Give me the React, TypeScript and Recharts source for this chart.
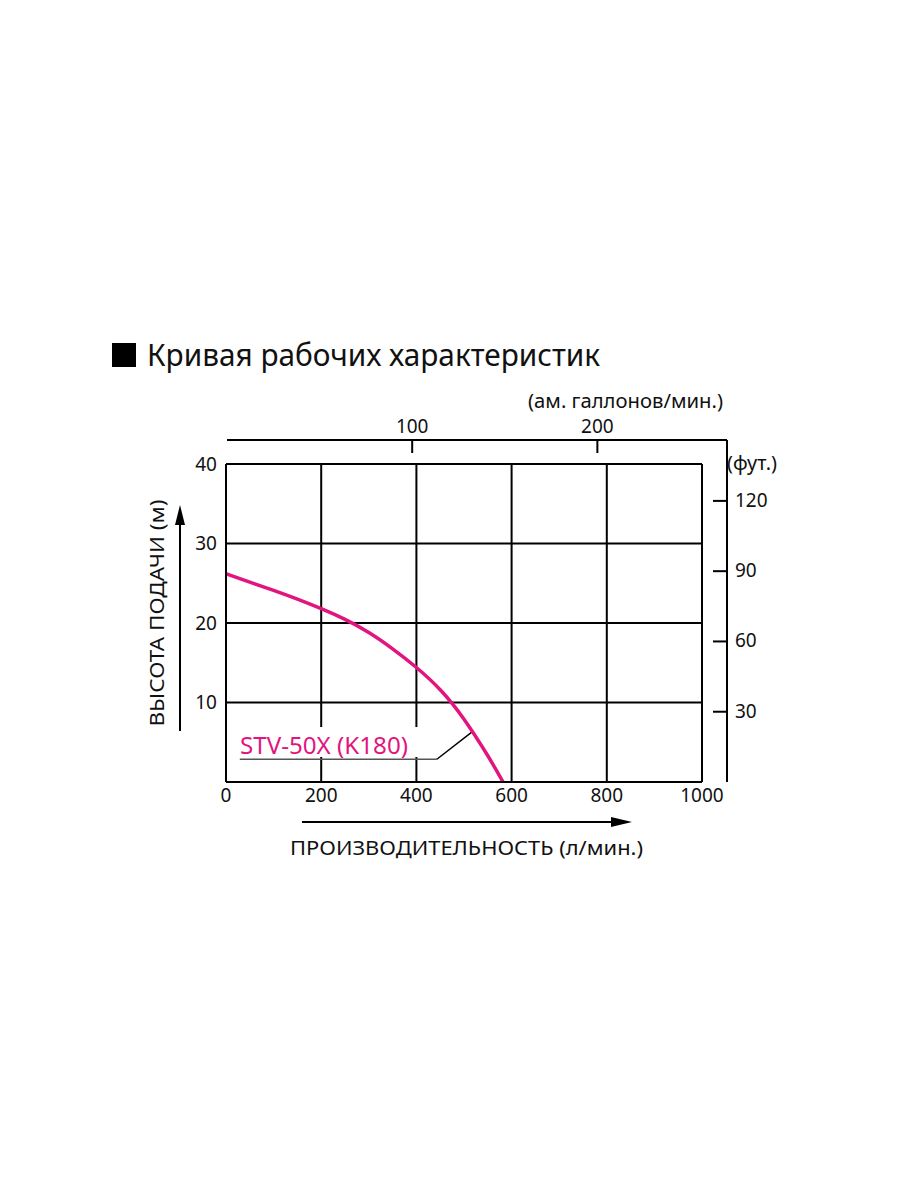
import { LineChart, Line, XAxis, YAxis, CartesianGrid, ReferenceLine } from 'recharts'

// litres per minute vs head in metres
const FLOW = [0, 50, 100, 150, 200, 250, 300, 350, 400, 450, 500, 550, 582]
const HEAD = [26.2, 25.15, 24.1, 23.0, 21.8, 20.45, 18.8, 16.75, 14.4, 11.6, 7.9, 3.3, 0]

const FLOW_TICKS = [0, 200, 400, 600, 800, 1000]
const HEAD_TICKS = [10, 20, 30, 40]
const GAL_TICKS = [100, 200]
const FEET_TICKS = [30, 60, 90, 120]

const SERIES_NAME = 'STV-50X (K180)'
const TITLE = 'Кривая рабочих характеристик'

const data = FLOW.map((flow, i) => ({ flow, head: HEAD[i] }))
const unitData = GAL_TICKS.map((gal, i) => ({ gal, ft: FEET_TICKS[i] }))

const FONT = "'Noto Sans', sans-serif"
const PINK = '#e2157f'
const INK = '#111'

function GalTick({ x, y, payload }: any) {
  return (
    <g>
      <line x1={x} y1={y} x2={x} y2={y + 13} stroke="#000" strokeWidth={2} />
      <text x={x} y={y - 14} textAnchor="middle" dominantBaseline="central" fontSize={19} fill={INK} fontFamily={FONT}>
        {payload.value}
      </text>
    </g>
  )
}

function FeetTick({ x, y, payload }: any) {
  return (
    <g>
      <line x1={x - 14} y1={y} x2={x} y2={y} stroke="#000" strokeWidth={2} />
      <text x={x + 8} y={y - 1} textAnchor="start" dominantBaseline="central" fontSize={19} fill={INK} fontFamily={FONT}>
        {payload.value}
      </text>
    </g>
  )
}

const tickStyle = { fontSize: 19, fill: INK, fontFamily: FONT }

export default function App() {
  return (
    <div style={{ position: 'absolute', left: 0, top: 0, width: 900, height: 1200, background: '#fff' }}>
      {/* main plot */}
      <div style={{ position: 'absolute', left: 0, top: 0 }}>
        <LineChart width={900} height={1200} data={data} margin={{ top: 464, right: 198, bottom: 388, left: 176 }}>
          <CartesianGrid stroke="#000" strokeWidth={2} />
          <XAxis
            type="number"
            dataKey="flow"
            domain={[0, 1000]}
            ticks={FLOW_TICKS}
            height={30}
            tickLine={false}
            tickSize={0}
            tickMargin={7}
            axisLine={{ stroke: '#000', strokeWidth: 2 }}
            tick={tickStyle}
            interval={0}
          />
          <YAxis
            type="number"
            domain={[0, 40]}
            ticks={HEAD_TICKS}
            width={50}
            tickLine={false}
            tickSize={0}
            tickMargin={9}
            axisLine={{ stroke: '#000', strokeWidth: 2 }}
            tick={tickStyle}
            interval={0}
          />
          <ReferenceLine
            segment={[{ x: 29, y: 2.86 }, { x: 443, y: 2.86 }]}
            stroke="#555"
            strokeWidth={1.5}
          />
          <ReferenceLine
            segment={[{ x: 443, y: 2.86 }, { x: 519, y: 6.4 }]}
            stroke="#000"
            strokeWidth={1.5}
          />
          <Line
            type="natural"
            dataKey="head"
            stroke={PINK}
            strokeWidth={3.5}
            dot={false}
            isAnimationActive={false}
          />
        </LineChart>
      </div>

      {/* gallons (top) and feet (right) axes */}
      <div style={{ position: 'absolute', left: 0, top: 0 }}>
        <LineChart width={900} height={1200} data={unitData} margin={{ top: 410, right: 123, bottom: 418, left: 227 }}>
          <XAxis
            orientation="top"
            type="number"
            dataKey="gal"
            domain={[0, 270]}
            allowDataOverflow
            ticks={GAL_TICKS}
            height={30}
            tickLine={false}
            tickSize={0}
            tickMargin={0}
            axisLine={{ stroke: '#000', strokeWidth: 2 }}
            tick={<GalTick />}
            interval={0}
          />
          <YAxis
            orientation="right"
            type="number"
            dataKey="ft"
            domain={[0, 146]}
            allowDataOverflow
            ticks={FEET_TICKS}
            width={50}
            tickLine={false}
            tickSize={0}
            tickMargin={0}
            axisLine={{ stroke: '#000', strokeWidth: 2 }}
            tick={<FeetTick />}
            interval={0}
          />
        </LineChart>
      </div>

      {/* titles, arrows, series label */}
      <svg
        width={900}
        height={1200}
        style={{ position: 'absolute', left: 0, top: 0, pointerEvents: 'none' }}
        fontFamily={FONT}
      >
        <rect x={112} y={343} width={24} height={24} fill="#000" />
        <text x={147} y={366} fontSize={31} fill={INK} textLength={453} lengthAdjust="spacingAndGlyphs">
          {TITLE}
        </text>

        <text x={528} y={408} fontSize={19} fill={INK} textLength={195} lengthAdjust="spacingAndGlyphs">
          (ам. галлонов/мин.)
        </text>
        <text x={727} y={470} fontSize={19} fill={INK} textLength={50} lengthAdjust="spacingAndGlyphs">
          (фут.)
        </text>

        <line x1={180} y1={731} x2={180} y2={520} stroke="#000" strokeWidth={2} />
        <polygon points="180,505 175,525 185,525" fill="#000" />
        <text
          x={0}
          y={0}
          transform="translate(164,613) rotate(-90)"
          textAnchor="middle"
          fontSize={19}
          fill={INK}
          textLength={227}
          lengthAdjust="spacingAndGlyphs"
        >
          ВЫСОТА ПОДАЧИ (м)
        </text>

        <line x1={302} y1={822} x2={615} y2={822} stroke="#000" strokeWidth={2} />
        <polygon points="632,822 611,817 611,827" fill="#000" />
        <text x={290} y={855} fontSize={19} fill={INK} textLength={353} lengthAdjust="spacingAndGlyphs">
          ПРОИЗВОДИТЕЛЬНОСТЬ (л/мин.)
        </text>

        <rect x={236} y={727} width={201} height={30} fill="#fff" />
        <text x={240} y={754} fontSize={24} fill={PINK} textLength={168} lengthAdjust="spacingAndGlyphs">
          {SERIES_NAME}
        </text>
      </svg>
    </div>
  )
}
